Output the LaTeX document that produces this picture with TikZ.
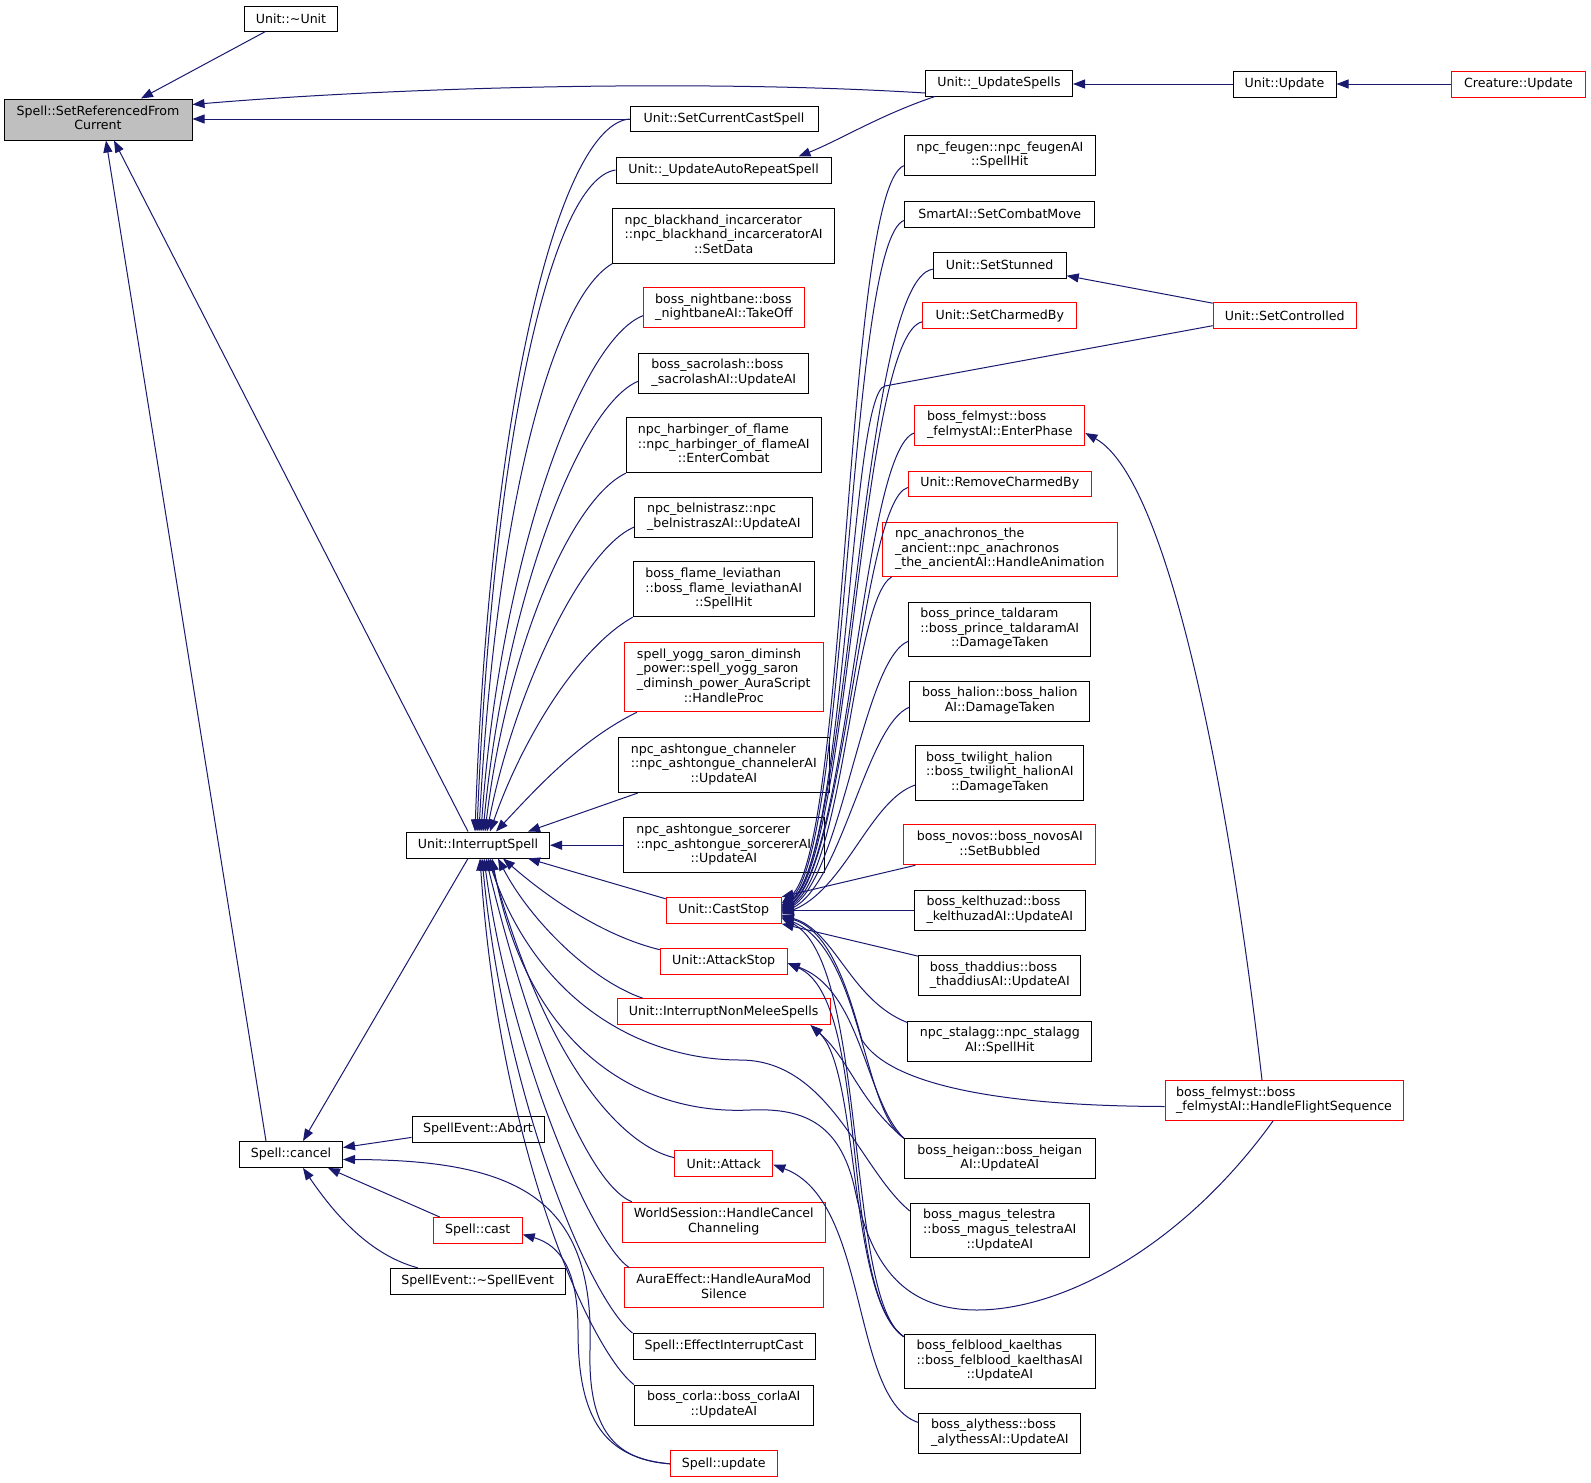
\documentclass[tikz,border=0pt]{standalone}
\usepackage{fontspec}
\setmainfont{DejaVu Sans}
\usetikzlibrary{arrows.meta,calc}
\definecolor{edgec}{RGB}{25,25,112}
\definecolor{srcgray}{RGB}{191,191,191}
\definecolor{rboxc}{RGB}{255,0,0}
\newcommand\mlines[2]{\begin{tabular}{@{}l@{}}#1\\\multicolumn{1}{@{}c@{}}{#2}\end{tabular}}
\begin{document}
\begin{tikzpicture}[x=1pt,y=-1pt,
  box/.style={draw=black, line width=1pt, inner sep=0pt, font=\fontsize{12.6}{14.6}\selectfont, align=center},
  rbox/.style={box, draw=rboxc},
  b/.style 2 args={minimum width=#1pt, minimum height=#2pt},
  e/.style={draw=edgec, line width=1pt, -{Triangle[length=12pt,width=9pt]}}]
\fill[white] (0,0) rectangle (1591,1483);
\useasboundingbox (0,0) rectangle (1591,1483);

% ---------- nodes ----------
\node[box,b={188}{41},fill=srcgray] (SRC) at (98,119.5) {\mlines{Spell::SetReferencedFrom}{Current}};
\node[box,b={93}{25}] (udtor) at (291,18.5) {Unit::\textasciitilde Unit};
\node[box,b={147}{26}] (USp) at (999,83) {Unit::\_UpdateSpells};
\node[box,b={103}{26}] (UUpd) at (1284.5,84) {Unit::Update};
\node[rbox,b={134}{26}] (CUpd) at (1518.5,84) {Creature::Update};
\node[box,b={188}{25}] (SCCS) at (724,119) {Unit::SetCurrentCastSpell};
\node[box,b={215}{26}] (UARS) at (723.5,170) {Unit::\_UpdateAutoRepeatSpell};
\node[box,b={222}{55}] (blackhand) at (723.7,235.7) {\mlines{npc\_blackhand\_incarcerator\\::npc\_blackhand\_incarceratorAI}{::SetData}};
\node[rbox,b={161}{40}] (nightbane) at (724,307.7) {\mlines{boss\_nightbane::boss}{\_nightbaneAI::TakeOff}};
\node[box,b={170}{40}] (sacrolash) at (723.8,373.2) {\mlines{boss\_sacrolash::boss}{\_sacrolashAI::UpdateAI}};
\node[box,b={195}{55}] (harbinger) at (723.8,445.2) {\mlines{npc\_harbinger\_of\_flame\\::npc\_harbinger\_of\_flameAI}{::EnterCombat}};
\node[box,b={178}{40}] (belnistrasz) at (723.8,517) {\mlines{npc\_belnistrasz::npc}{\_belnistraszAI::UpdateAI}};
\node[box,b={181}{55}] (flame) at (723.7,589.2) {\mlines{boss\_flame\_leviathan\\::boss\_flame\_leviathanAI}{::SpellHit}};
\node[rbox,b={199}{69}] (yogg) at (723.8,677.3) {\mlines{spell\_yogg\_saron\_diminsh\\\_power::spell\_yogg\_saron\\\_diminsh\_power\_AuraScript}{::HandleProc}};
\node[box,b={211}{55}] (channeler) at (723.8,765) {\mlines{npc\_ashtongue\_channeler\\::npc\_ashtongue\_channelerAI}{::UpdateAI}};
\node[box,b={201}{55}] (sorcerer) at (723.8,845.2) {\mlines{npc\_ashtongue\_sorcerer\\::npc\_ashtongue\_sorcererAI}{::UpdateAI}};
\node[box,b={143}{26}] (IS) at (478,845) {Unit::InterruptSpell};
\node[rbox,b={115}{26}] (CastStop) at (723.7,910.3) {Unit::CastStop};
\node[rbox,b={127}{26}] (AttackStop) at (723.7,961.2) {Unit::AttackStop};
\node[rbox,b={213}{26}] (INMS) at (723.7,1011.7) {Unit::InterruptNonMeleeSpells};
\node[rbox,b={98}{26}] (Attack) at (723.8,1163.7) {Unit::Attack};
\node[rbox,b={203}{40}] (WSHCC) at (723.8,1222.3) {\mlines{WorldSession::HandleCancel}{Channeling}};
\node[rbox,b={199}{40}] (Aura) at (723.8,1287.8) {\mlines{AuraEffect::HandleAuraMod}{Silence}};
\node[box,b={182}{26}] (EIC) at (724,1346.5) {Spell::EffectInterruptCast};
\node[box,b={179}{40}] (corla) at (723.8,1405) {\mlines{boss\_corla::boss\_corlaAI}{::UpdateAI}};
\node[rbox,b={107}{26}] (update) at (723.8,1463.8) {Spell::update};
\node[box,b={103}{26}] (cancel) at (291,1154.5) {Spell::cancel};
\node[box,b={132}{26}] (Abort) at (478,1129.4) {SpellEvent::Abort};
\node[rbox,b={89}{26}] (cast) at (477.7,1230.5) {Spell::cast};
\node[box,b={175}{26}] (SED) at (477.7,1281.3) {SpellEvent::\textasciitilde SpellEvent};

\node[box,b={191}{40}] (feugen) at (999.8,155.7) {\mlines{npc\_feugen::npc\_feugenAI}{::SpellHit}};
\node[box,b={190}{26}] (SmartAI) at (999.8,214.3) {SmartAI::SetCombatMove};
\node[box,b={133}{26}] (SetStunned) at (999.7,265.2) {Unit::SetStunned};
\node[rbox,b={154}{26}] (SetCharmedBy) at (999.8,315.8) {Unit::SetCharmedBy};
\node[rbox,b={170}{40}] (EnterPhase) at (999.8,425) {\mlines{boss\_felmyst::boss}{\_felmystAI::EnterPhase}};
\node[rbox,b={183}{25}] (RemoveCharmedBy) at (999.8,483.5) {Unit::RemoveCharmedBy};
\node[rbox,b={235}{54}] (anachronos) at (999.8,549.3) {\mlines{npc\_anachronos\_the\\\_ancient::npc\_anachronos}{\_the\_ancientAI::HandleAnimation}};
\node[box,b={182}{54}] (prince) at (999.8,629.2) {\mlines{boss\_prince\_taldaram\\::boss\_prince\_taldaramAI}{::DamageTaken}};
\node[box,b={180}{40}] (halion) at (999.8,701.2) {\mlines{boss\_halion::boss\_halion}{AI::DamageTaken}};
\node[box,b={168}{55}] (twilight) at (999.8,773) {\mlines{boss\_twilight\_halion\\::boss\_twilight\_halionAI}{::DamageTaken}};
\node[rbox,b={192}{40}] (novos) at (999.8,844.8) {\mlines{boss\_novos::boss\_novosAI}{::SetBubbled}};
\node[box,b={171}{40}] (kelthuzad) at (999.8,910.3) {\mlines{boss\_kelthuzad::boss}{\_kelthuzadAI::UpdateAI}};
\node[box,b={162}{40}] (thaddius) at (999.8,975.7) {\mlines{boss\_thaddius::boss}{\_thaddiusAI::UpdateAI}};
\node[box,b={184}{40}] (stalagg) at (999.8,1041) {\mlines{npc\_stalagg::npc\_stalagg}{AI::SpellHit}};
\node[box,b={191}{40}] (heigan) at (999.8,1158.7) {\mlines{boss\_heigan::boss\_heigan}{AI::UpdateAI}};
\node[box,b={179}{54}] (magus) at (999.8,1230.5) {\mlines{boss\_magus\_telestra\\::boss\_magus\_telestraAI}{::UpdateAI}};
\node[box,b={191}{54}] (felblood) at (999.8,1361.2) {\mlines{boss\_felblood\_kaelthas\\::boss\_felblood\_kaelthasAI}{::UpdateAI}};
\node[box,b={162}{40}] (alythess) at (999.8,1433) {\mlines{boss\_alythess::boss}{\_alythessAI::UpdateAI}};
\node[rbox,b={143}{26}] (SetControlled) at (1284.7,315.7) {Unit::SetControlled};
\node[rbox,b={238}{40}] (HFS) at (1284,1100.5) {\mlines{boss\_felmyst::boss}{\_felmystAI::HandleFlightSequence}};

% ---------- edges into SetReferencedFromCurrent ----------
\draw[e] ($(udtor.south west)+(21.5,0)$) -- ($(SRC.north)+(43,0)$);
\draw[e] ($(USp.west)+(0,10)$) .. controls (700,79) and (400,87) .. ($(SRC.east)+(0,-15)$);
\draw[e] (SCCS.west) -- (SCCS.west -| SRC.east);
\draw[e] ($(IS.north)+(-10,0)$) -- ($(SRC.south)+(16,0)$);
\draw[e] ($(cancel.north)+(-25,0)$) -- ($(SRC.south)+(8,0)$);

% ---------- update chain ----------
\draw[e] (UUpd.west) -- (UUpd.west -| USp.east);
\draw[e] (CUpd.west) -- (UUpd.east);
\draw[e] ($(USp.south west)+(10,0)$) .. controls (880,115) and (840,140) .. ($(UARS.north)+(75,0)$);

% ---------- into InterruptSpell (top) ----------
\draw[e] (SCCS.west) .. controls (560,125) and (490,400) .. ($(IS.north)+(-3,0)$);
\draw[e] (UARS.west) .. controls (550,180) and (492,450) .. ($(IS.north)+(-1,0)$);
\draw[e] (blackhand.south west) .. controls (550,300) and (495,520) .. ($(IS.north)+(1,0)$);
\draw[e] ($(nightbane.west)+(0,8)$) .. controls (580,340) and (500,560) .. ($(IS.north)+(3,0)$);
\draw[e] ($(sacrolash.west)+(0,8)$) .. controls (580,405) and (505,600) .. ($(IS.north)+(5,0)$);
\draw[e] (harbinger.south west) .. controls (570,500) and (507,650) .. ($(IS.north)+(7,0)$);
\draw[e] ($(belnistrasz.west)+(0,10)$) .. controls (580,550) and (512,700) .. ($(IS.north)+(9,0)$);
\draw[e] (flame.south west) .. controls (575,650) and (520,745) .. ($(IS.north)+(12,0)$);
\draw[e] ($(yogg.south west)+(13,0)$) .. controls (580,740) and (535,790) .. ($(IS.north)+(18,0)$);
\draw[e] ($(channeler.south west)+(20,0)$) -- ($(IS.north east)+(-22,0)$);
\draw[e] (sorcerer.west) -- (sorcerer.west -| IS.east);

% ---------- into InterruptSpell (bottom) ----------
\draw[e] ($(CastStop.north west)+(0,2)$) -- ($(IS.south)+(50,0)$);
\draw[e] ($(AttackStop.north west)+(0,2)$) .. controls (600,935) and (545,895) .. ($(IS.south)+(25,0)$);
\draw[e] ($(INMS.north west)+(26,0)$) .. controls (590,980) and (530,920) .. ($(IS.south)+(20,0)$);
\draw[e] ($(Attack.west)+(0,-6)$) .. controls (620,1145) and (545,1060) .. ($(IS.south)+(12,0)$);
\draw[e] ($(WSHCC.north west)+(10,0)$) .. controls (580,1180) and (520,1000) .. ($(IS.south)+(8,0)$);
\draw[e] ($(Aura.north west)+(5,0)$) .. controls (590,1240) and (510,1050) .. ($(IS.south)+(6,0)$);
\draw[e] (EIC.north west) .. controls (590,1300) and (505,1100) .. ($(IS.south)+(4,0)$);
\draw[e] (corla.north west) .. controls (590,1350) and (500,1150) .. ($(IS.south)+(2,0)$);
\draw[e] ($(magus.north west)+(0,8)$) .. controls (860,1170) and (830,1060) .. (740,1060) .. controls (650,1060) and (540,1010) .. ($(IS.south)+(10,0)$);
\draw[e] ($(HFS.south)+(-11,0)$) .. controls (1180,1250) and (1060,1310) .. (977,1310) .. controls (900,1310) and (870,1260) .. (855,1190) .. controls (840,1120) and (800,1108) .. (750,1110) .. controls (650,1115) and (530,1060) .. ($(IS.south)+(14,0)$);

% ---------- into Spell::cancel ----------
\draw[e] ($(IS.south)+(-10,0)$) -- ($(cancel.north)+(12,0)$);
\draw[e] ($(Abort.west)+(0,8)$) -- ($(cancel.east)+(0,-7)$);
\draw[e] ($(cast.north west)+(7,0)$) -- ($(cancel.south east)+(-15,0)$);
\draw[e] ($(SED.north west)+(28,0)$) .. controls (370,1255) and (335,1215) .. ($(cancel.south)+(12,0)$);
\draw[e] (update.west) .. controls (615,1460) and (588,1430) .. (590,1350) .. controls (595,1200) and (520,1160) .. ($(cancel.east)+(0,5)$);
\draw[e] (update.west) .. controls (605,1458) and (578,1420) .. (578,1330) .. controls (578,1270) and (560,1245) .. ($(cast.east)+(0,4)$);

% ---------- into Unit::CastStop ----------
\draw[e] ($(feugen.west)+(0,10)$) .. controls (845,190) and (848,850) .. ($(CastStop.east)+(0,-7)$);
\draw[e] ($(SmartAI.west)+(0,6)$) .. controls (848,240) and (848,855) .. ($(CastStop.east)+(0,-5)$);
\draw[e] ($(SetStunned.west)+(0,4)$) .. controls (860,280) and (850,860) .. ($(CastStop.east)+(0,-4)$);
\draw[e] ($(SetCharmedBy.west)+(0,6)$) .. controls (860,335) and (850,862) .. ($(CastStop.east)+(0,-3)$);
\draw[e] ($(SetControlled.west)+(0,10)$) -- (885,386) .. controls (850,392) and (846,860) .. ($(CastStop.east)+(0,-2)$);
\draw[e] ($(EnterPhase.west)+(0,8)$) .. controls (862,450) and (848,865) .. ($(CastStop.east)+(0,-1)$);
\draw[e] ($(RemoveCharmedBy.west)+(0,4)$) .. controls (862,500) and (845,868) .. (CastStop.east);
\draw[e] ($(anachronos.south west)+(10,0)$) .. controls (852,600) and (845,872) .. ($(CastStop.east)+(0,1)$);
\draw[e] ($(prince.west)+(0,12)$) .. controls (862,660) and (842,878) .. ($(CastStop.east)+(0,2)$);
\draw[e] ($(halion.west)+(0,6)$) .. controls (866,725) and (842,884) .. ($(CastStop.east)+(0,3)$);
\draw[e] ($(twilight.west)+(0,12)$) .. controls (870,800) and (845,890) .. ($(CastStop.east)+(0,4)$);
\draw[e] ($(novos.south west)+(12,0)$) -- (CastStop.north east);
\draw[e] (kelthuzad.west) -- (kelthuzad.west -| CastStop.east);
\draw[e] ($(thaddius.north west)+(0,1)$) -- (CastStop.south east);
\draw[e] ($(stalagg.north west)+(0,2)$) .. controls (850,1000) and (835,930) .. ($(CastStop.east)+(0,5)$);
\draw[e] ($(HFS.west)+(0,6)$) .. controls (1000,1106) and (890,1085) .. (862,1040) .. controls (848,990) and (830,930) .. ($(CastStop.east)+(0,6)$);
\draw[e] (heigan.north west) .. controls (862,1110) and (862,950) .. ($(CastStop.east)+(0,7)$);
\draw[e] ($(felblood.north west)+(0,3)$) .. controls (845,1300) and (868,960) .. ($(CastStop.east)+(0,8)$);

% ---------- AttackStop / InterruptNonMeleeSpells / Attack ----------
\draw[e] (heigan.north west) .. controls (865,1100) and (862,990) .. ($(AttackStop.east)+(0,2)$);
\draw[e] ($(felblood.north west)+(0,3)$) .. controls (838,1290) and (872,1000) .. ($(AttackStop.east)+(0,2)$);
\draw[e] (heigan.north west) .. controls (858,1100) and (850,1060) .. ($(INMS.south east)+(-20,0)$);
\draw[e] ($(felblood.north west)+(0,3)$) .. controls (848,1300) and (860,1070) .. ($(INMS.south east)+(-20,0)$);
\draw[e] ($(alythess.north west)+(0,10)$) .. controls (850,1400) and (870,1200) .. ($(Attack.east)+(0,1)$);

% ---------- right side ----------
\draw[e] ($(HFS.north)+(-22,0)$) .. controls (1230,800) and (1170,480) .. ($(EnterPhase.east)+(0,8)$);
\draw[e] ($(SetControlled.north west)+(0,1)$) -- ($(SetStunned.south east)+(0,-3)$);
\end{tikzpicture}
\end{document}
